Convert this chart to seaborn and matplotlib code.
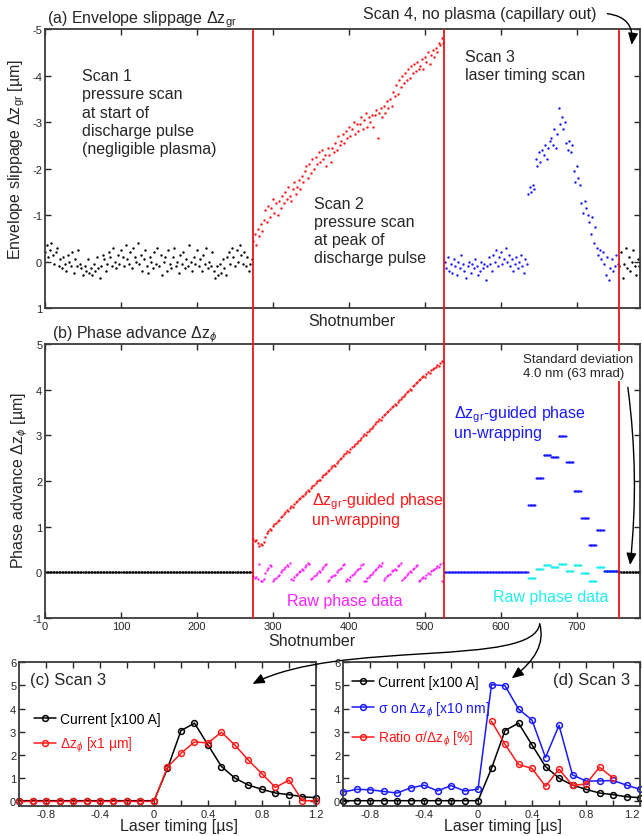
import numpy as np
import matplotlib
matplotlib.use('Agg')
import matplotlib.pyplot as plt
from matplotlib.patches import FancyArrowPatch
from matplotlib.path import Path
import seaborn as sns

# ---------------- data ----------------
# shot numbers where the red separators sit (start of scan 2, 3, 4)
scan_edges = [273.5, 525.5, 755.5]

# envelope slippage dz_gr [um], plotted every second shot
shots1 = np.arange(0, 274, 2)
env1 = [-0.2, -0.35, -0.1, -0.25, -0.4, -0.15, 0.05, -0.2, -0.3, 0.1, -0.05,
        0.15, -0.1, 0.05, 0.2, -0.15, 0.0, 0.1, -0.2, 0.25, -0.05,
        0.1, -0.25, 0.05, 0.15, 0.3, 0.1, 0.2, -0.05, 0.25, 0.15,
        0.3, 0.05, 0.2, -0.1, 0.15, 0.35, 0.1, -0.15, -0.05, 0.2,
        0.05, -0.2, -0.1, 0.1, -0.3, 0.0, 0.15, -0.15, 0.05, -0.25,
        -0.1, 0.1, -0.35, -0.05, 0.05, -0.2, 0.15, -0.3, -0.1, 0.0,
        -0.4, 0.05, -0.15, 0.2, -0.05, -0.25, 0.1, 0.25, -0.1, 0.0,
        0.15, -0.2, 0.05, -0.3, 0.1, -0.15, 0.3, 0.0, -0.1, 0.2,
        -0.25, 0.05, 0.15, -0.1, -0.3, 0.1, 0.0, 0.25, -0.15, 0.05,
        -0.2, 0.15, -0.05, 0.1, -0.35, 0.0, 0.2, -0.1, 0.05, -0.25,
        0.1, -0.05, 0.2, -0.15, 0.05, -0.3, 0.15, 0.0, 0.1, -0.2,
        0.2, 0.35, 0.1, 0.3, 0.05, 0.25, -0.05, 0.15, 0.3, -0.1,
        -0.2, 0.05, -0.3, -0.1, 0.1, -0.25, 0.0, -0.35, -0.15, 0.05,
        -0.2, 0.1, -0.1, 0.2, 0.05, -0.05]

shots2 = np.arange(274, 526, 2)
env2 = [-0.45, -0.6, -0.35, -0.7, -0.55, -0.8, -0.65, -0.9, -1.1, -0.85,
        -1.2, -0.95, -1.15, -1.35, -1.05, -1.25, -1.0, -1.3, -1.15, -1.4,
        -1.25, -1.5, -1.35, -1.6, -1.4, -1.3, -1.55, -1.7, -1.45, -1.6,
        -1.75, -1.55, -1.85, -1.7, -1.95, -2.05, -1.8, -2.1, -1.9, -2.2,
        -2.0, -2.25, -2.1, -2.35, -2.15, -2.4, -2.2, -2.3, -2.05, -2.45,
        -2.3, -2.15, -2.45, -2.35, -2.55, -2.4, -2.7, -2.5, -2.6, -2.75,
        -2.55, -2.8, -2.65, -2.9, -2.7, -2.85, -3.0, -2.75, -2.95, -2.8,
        -2.95, -3.1, -2.85, -3.05, -3.2, -2.9, -3.1, -3.0, -3.15, -2.9,
        -3.15, -3.25, -2.65, -3.2, -3.3, -3.1, -3.35, -3.2, -3.45, -3.3,
        -3.5, -3.35, -3.65, -3.55, -3.8, -3.6, -3.9, -3.75, -4.0, -3.85,
        -4.05, -3.9, -4.15, -3.95, -4.2, -4.05, -4.25, -4.1, -4.3, -4.15,
        -4.2, -4.35, -4.15, -4.4, -4.3, -4.5, -4.25, -4.45, -4.55, -4.4,
        -4.6, -4.5, -4.7, -4.65, -4.8, -4.7]

shots3 = np.arange(526, 756, 2)
env3 = [0.0, 0.15, -0.1, 0.2, 0.05, 0.25, -0.05, 0.1, 0.3, 0.0,
        0.15, -0.15, 0.05, 0.2, 0.35, 0.1, 0.0, 0.25, 0.05, 0.15,
        -0.05, 0.1, 0.3, 0.2, 0.0, 0.15, 0.05, 0.4, 0.1, -0.1,
        0.05, 0.2, -0.15, 0.0, -0.25, 0.1, -0.1, -0.2, 0.05, -0.05,
        -0.3, 0.0, -0.15, 0.1, -0.05, 0.2, 0.05, -0.1, 0.15, 0.0,
        -0.15, 0.1, 0.25, -0.05, 0.05,
        -1.45, -1.6, -1.5, -1.65, -1.55,
        -2.2, -2.05, -2.35, -2.15, -2.4,
        -2.3, -2.5, -2.2, -2.45, -2.6,
        -2.65, -2.5, -2.85, -2.45, -2.75,
        -3.3, -2.95, -3.1, -2.85, -3.0,
        -2.55, -2.4, -2.6, -2.35, -2.5,
        -1.95, -1.7, -2.05, -1.8, -1.65,
        -1.25, -1.05, -1.3, -1.15, -1.0,
        -0.85, -0.6, -0.95, -0.4, -0.75,
        -0.3, -0.15, -0.25, -0.05, -0.2,
        0.05, 0.3, -0.1, 0.4, 0.15,
        -0.05, 0.2, 0.1, -0.15, 0.05]

shots4 = np.arange(756, 784, 2)
env4 = [0.1, -0.2, 0.35, 0.05, -0.3, 0.15, -0.1, 0.2, 0.0, -0.25, 0.1, 0.3, -0.05, 0.1]

# phase advance dz_phi [um]
phase1_level = 0.0          # scan 1 and scan 4 sit on zero
phase2 = [0.72, 0.68, 0.70, 0.65, 0.58, 0.62, 0.60, 0.66, 0.78, 0.85,
          0.90, 0.95, 0.93, 1.01, 1.05, 1.08, 1.12, 1.15, 1.20, 1.24,
          1.28, 1.31, 1.36, 1.34, 1.40, 1.45, 1.43, 1.50, 1.54, 1.56,
          1.60, 1.63, 1.68, 1.66, 1.72, 1.76, 1.80, 1.78, 1.85, 1.88,
          1.92, 1.95, 1.99, 2.03, 2.01, 2.08, 2.12, 2.15, 2.18, 2.22,
          2.24, 2.29, 2.32, 2.35, 2.33, 2.40, 2.44, 2.47, 2.50, 2.55,
          2.58, 2.61, 2.66, 2.64, 2.70, 2.74, 2.77, 2.81, 2.84, 2.88,
          2.90, 2.95, 2.98, 3.02, 3.00, 3.07, 3.10, 3.14, 3.17, 3.21,
          3.24, 3.28, 3.31, 3.35, 3.33, 3.40, 3.44, 3.47, 3.51, 3.54,
          3.57, 3.62, 3.65, 3.68, 3.66, 3.73, 3.77, 3.80, 3.84, 3.87,
          3.90, 3.95, 3.98, 4.02, 4.00, 4.07, 4.10, 4.14, 4.17, 4.20,
          4.23, 4.27, 4.30, 4.28, 4.34, 4.38, 4.36, 4.42, 4.45, 4.48,
          4.50, 4.54, 4.52, 4.58, 4.62, 4.60]

# scan 3: laser timing scan, 10 shots per timing step
timing = [-1.0, -0.9, -0.8, -0.7, -0.6, -0.5, -0.4, -0.3, -0.2, -0.1, 0.0,
          0.1, 0.2, 0.3, 0.4, 0.5, 0.6, 0.7, 0.8, 0.9, 1.0, 1.1, 1.2]
current = [0.03, 0.03, 0.03, 0.03, 0.03, 0.03, 0.03, 0.03, 0.03, 0.03, 0.03,
           1.42, 3.05, 3.37, 2.43, 1.50, 1.00, 0.70, 0.52, 0.36, 0.29, 0.20, 0.16]
dz_phi = [0.0, 0.0, 0.0, 0.0, 0.0, 0.0, 0.0, 0.0, 0.0, 0.0, 0.0,
          1.48, 2.07, 2.56, 2.52, 2.98, 2.42, 1.77, 1.19, 0.60, 0.92, 0.03, 0.03]
sigma = [0.40, 0.52, 0.50, 0.43, 0.36, 0.58, 0.70, 0.45, 0.68, 0.45, 0.52,
         5.03, 4.98, 3.98, 3.50, 1.89, 3.28, 1.14, 0.88, 0.88, 0.90, 0.70, 0.52]
timing_ratio = [0.1, 0.2, 0.3, 0.4, 0.5, 0.6, 0.7, 0.8, 0.9, 1.0]
ratio = [3.45, 2.46, 1.59, 1.42, 0.65, 1.39, 0.69, 0.75, 1.47, 1.01]
shots_per_step = 10
wrap_period = 0.4           # raw interferometric phase wraps every 0.4 um

x_ticks_c = [-0.8, -0.6, -0.4, -0.2, 0.0, 0.2, 0.4, 0.6, 0.8, 1.0, 1.2]
x_labels_c = ['-0.8', '', '-0.4', '', '0', '', '0.4', '', '0.8', '', '1.2']

# ---------------- style ----------------
sns.set_style('ticks')
plt.rcParams['font.family'] = ['Liberation Sans', 'DejaVu Sans']
plt.rcParams['mathtext.fontset'] = 'custom'
plt.rcParams['mathtext.rm'] = 'Liberation Sans'
plt.rcParams['mathtext.it'] = 'Liberation Sans:italic'
plt.rcParams['axes.unicode_minus'] = False
plt.rcParams['xtick.direction'] = 'in'
plt.rcParams['ytick.direction'] = 'in'
plt.rcParams['xtick.top'] = True
plt.rcParams['ytick.right'] = True
plt.rcParams['xtick.major.size'] = 4
plt.rcParams['ytick.major.size'] = 4
plt.rcParams['xtick.major.width'] = 1
plt.rcParams['ytick.major.width'] = 1
plt.rcParams['xtick.labelsize'] = 8
plt.rcParams['ytick.labelsize'] = 8
plt.rcParams['xtick.major.pad'] = 2
plt.rcParams['ytick.major.pad'] = 2
plt.rcParams['axes.edgecolor'] = '#3a3a3a'
plt.rcParams['axes.linewidth'] = 1.3

RED = '#ff1a1a'
SEP = '#e8161c'
BLUE = '#1a1aff'
MAG = '#ff22ff'
CYAN = '#22eeee'
FS = 11.5

fig = plt.figure(figsize=(6.42, 8.37), dpi=100)
ax_a = fig.add_axes([0.0701, 0.6308, 0.9268, 0.3333])
ax_b = fig.add_axes([0.0701, 0.2605, 0.9268, 0.3274])
ax_c = fig.add_axes([0.0296, 0.0358, 0.4626, 0.1720])
ax_d = fig.add_axes([0.5343, 0.0358, 0.4626, 0.1720])

dot = dict(s=3, linewidth=0, legend=False)

# ---------------- (a) envelope slippage ----------------
sns.scatterplot(x=shots1, y=env1, color='k', ax=ax_a, **dot)
sns.scatterplot(x=shots2, y=env2, color=RED, ax=ax_a, **dot)
sns.scatterplot(x=shots3, y=env3, color=BLUE, ax=ax_a, **dot)
sns.scatterplot(x=shots4, y=env4, color='k', ax=ax_a, **dot)
ax_a.set_xlim(0, 783)
ax_a.set_ylim(1, -5)
ax_a.set_xticks(range(0, 800, 100))
ax_a.set_xticklabels([])
ax_a.set_yticks(range(-5, 2))
ax_a.set_xlabel('Shotnumber', fontsize=FS)
ax_a.xaxis.set_label_coords(0.516, -0.018)
ax_a.set_ylabel('Envelope slippage Δz$_{\\mathrm{gr}}$ [µm]', fontsize=FS)
ax_a.yaxis.set_label_coords(-0.03, 0.535)
ax_a.set_title('(a) Envelope slippage Δz$_{\\mathrm{gr}}$', loc='left', fontsize=FS, pad=4, x=0.003)

ax_a.text(49, -4.16, 'Scan 1\npressure scan\nat start of\ndischarge pulse\n(negligible plasma)',
          fontsize=FS, va='top', ha='left', linespacing=1.27)
ax_a.text(354, -1.42, 'Scan 2\npressure scan\nat peak of\ndischarge pulse',
          fontsize=FS, va='top', ha='left', linespacing=1.27)
ax_a.text(553, -4.57, 'Scan 3\nlaser timing scan',
          fontsize=FS, va='top', ha='left', linespacing=1.27)
ax_a.text(418, -5.33, 'Scan 4, no plasma (capillary out)', fontsize=FS,
          va='center', ha='left', clip_on=False)
ax_a.annotate('', xy=(772, -4.66), xytext=(740, -5.33), annotation_clip=False,
              arrowprops=dict(arrowstyle='-|>,head_length=0.7,head_width=0.3', color='k', lw=1,
                              mutation_scale=10, connectionstyle='arc3,rad=-0.5',
                              shrinkA=0, shrinkB=0))

# ---------------- (b) phase advance ----------------
shots_each3 = np.arange(scan_edges[1] + 0.5, scan_edges[2] + 0.5)
phase3 = np.repeat(dz_phi, shots_per_step)
step_time = np.repeat(timing, shots_per_step)
raw2 = np.mod(np.array(phase2) + wrap_period / 2, wrap_period) - wrap_period / 2
raw3 = np.mod(phase3 + wrap_period / 2, wrap_period) - wrap_period / 2
after = step_time > 0

fine = dict(s=2.2, linewidth=0, legend=False)
sns.scatterplot(x=shots1, y=np.full(len(shots1), phase1_level), color='k', ax=ax_b, **dot)
sns.scatterplot(x=shots2, y=raw2, color=MAG, ax=ax_b, **dot)
sns.scatterplot(x=shots2, y=phase2, color=RED, ax=ax_b, **dot)
sns.scatterplot(x=shots_each3[after], y=raw3[after], color=CYAN, ax=ax_b, **fine)
sns.scatterplot(x=shots_each3, y=phase3, color=BLUE, ax=ax_b, **fine)
sns.scatterplot(x=shots4, y=np.full(len(shots4), phase1_level), color='k', ax=ax_b, **dot)
ax_b.set_xlim(0, 783)
ax_b.set_ylim(-1, 5)
ax_b.set_xticks(range(0, 800, 100))
ax_b.set_yticks(range(-1, 6))
ax_b.set_xlabel('Shotnumber', fontsize=FS)
ax_b.xaxis.set_label_coords(0.449, -0.055)
ax_b.set_ylabel('Phase advance Δz$_{\\phi}$ [µm]', fontsize=FS)
ax_b.yaxis.set_label_coords(-0.025, 0.505)
ax_b.set_title('(b) Phase advance Δz$_{\\phi}$', loc='left', fontsize=FS, pad=3, x=0.012)

ax_b.text(351, 1.8, 'Δz$_{\\mathrm{gr}}$-guided phase\nun-wrapping', color=RED,
          fontsize=FS, va='top', ha='left', linespacing=1.12)
ax_b.text(538, 3.7, 'Δz$_{\\mathrm{gr}}$-guided phase\nun-wrapping', color=BLUE,
          fontsize=FS, va='top', ha='left', linespacing=1.12)
ax_b.text(318, -0.62, 'Raw phase data', color=MAG, fontsize=FS, va='center', ha='left')
ax_b.text(590, -0.54, 'Raw phase data', color=CYAN, fontsize=FS, va='center', ha='left')
ax_b.text(629, 4.8, 'Standard deviation\n4.0 nm (63 mrad)', fontsize=9.5, va='top', ha='left',
          zorder=6, linespacing=1.2,
          bbox=dict(facecolor='white', edgecolor='none', pad=1.5))
ax_b.annotate('', xy=(770, 0.16), xytext=(767, 4.05),
              arrowprops=dict(arrowstyle='-|>,head_length=0.7,head_width=0.3', color='k', lw=1,
                              mutation_scale=10, connectionstyle='arc3,rad=-0.06',
                              shrinkA=0, shrinkB=0), zorder=7)

# red separators running through (a), the gap and (b)
gap = (0.6308 - (0.2605 + 0.3274)) / 0.3274
for edge in scan_edges:
    ax_a.axvline(edge, color=SEP, lw=1.3, zorder=3)
    ax_b.axvline(edge, ymin=0, ymax=1 + gap, color=SEP, lw=1.3, zorder=3, clip_on=False)

# ---------------- (c) and (d) ----------------
line = dict(marker='o', ms=4.2, mfc='none', mew=1.1, lw=1.1, clip_on=False,
            sort=False, estimator=None)
sns.lineplot(x=timing, y=current, color='k', mec='k', label='Current [x100 A]', ax=ax_c, **line)
sns.lineplot(x=timing, y=dz_phi, color=RED, mec=RED, label='Δz$_{\\phi}$ [x1 µm]', ax=ax_c, **line)

sns.lineplot(x=timing, y=current, color='k', mec='k', label='Current [x100 A]', ax=ax_d, **line)
sns.lineplot(x=timing, y=sigma, color=BLUE, mec=BLUE, label='σ on Δz$_{\\phi}$ [x10 nm]', ax=ax_d, **line)
sns.lineplot(x=timing_ratio, y=ratio, color=RED, mec=RED, label='Ratio σ/Δz$_{\\phi}$ [%]', ax=ax_d, **line)

for ax in (ax_c, ax_d):
    ax.set_xlim(-1.0, 1.2)
    ax.set_ylim(-0.2, 6)
    ax.set_yticks(range(0, 7))
    ax.set_xticks(x_ticks_c)
    ax.set_xticklabels(x_labels_c)
    ax.set_xlabel('Laser timing [µs]', fontsize=FS)
    ax.xaxis.set_label_coords(0.54, -0.085)
    ax.set_ylabel('')
# keep the last label of (d) inside the figure edge
ax_d.get_xticklabels()[-1].set_horizontalalignment('right')

ax_c.legend(loc='upper left', bbox_to_anchor=(0.05, 0.655), frameon=False, fontsize=10,
            labelcolor='linecolor', handlelength=1.6, handletextpad=0.25,
            labelspacing=0.65, borderpad=0, borderaxespad=0)
ax_d.legend(loc='upper left', bbox_to_anchor=(0.03, 0.91), frameon=False, fontsize=10,
            labelcolor='linecolor', handlelength=1.6, handletextpad=0.25,
            labelspacing=0.75, borderpad=0, borderaxespad=0)
ax_c.text(-0.92, 5.25, '(c) Scan 3', fontsize=12, va='center', ha='left')
ax_d.text(1.13, 5.25, '(d) Scan 3', fontsize=12, va='center', ha='right')


# ---------------- arrows from Scan 3 shots to (c) and (d) ----------------
def to_fig(ax, x, y):
    return fig.transFigure.inverted().transform(ax.transData.transform((x, y)))


def curved_arrow(points):
    codes = [Path.MOVETO] + [Path.CURVE4] * (len(points) - 1)
    arrow = FancyArrowPatch(path=Path(points, codes), transform=fig.transFigure,
                            arrowstyle='-|>,head_length=0.7,head_width=0.3',
                            mutation_scale=10, color='k', lw=1)
    fig.add_artist(arrow)


start = to_fig(ax_b, 651, -1.13)
curved_arrow([start, to_fig(ax_b, 643, -2.1), to_fig(ax_b, 388, -1.46), to_fig(ax_c, 0.73, 5.06)])
curved_arrow([start, to_fig(ax_b, 658, -1.56), to_fig(ax_b, 645, -1.93), to_fig(ax_d, 0.25, 5.3)])

fig.savefig('out.png', dpi=100)
